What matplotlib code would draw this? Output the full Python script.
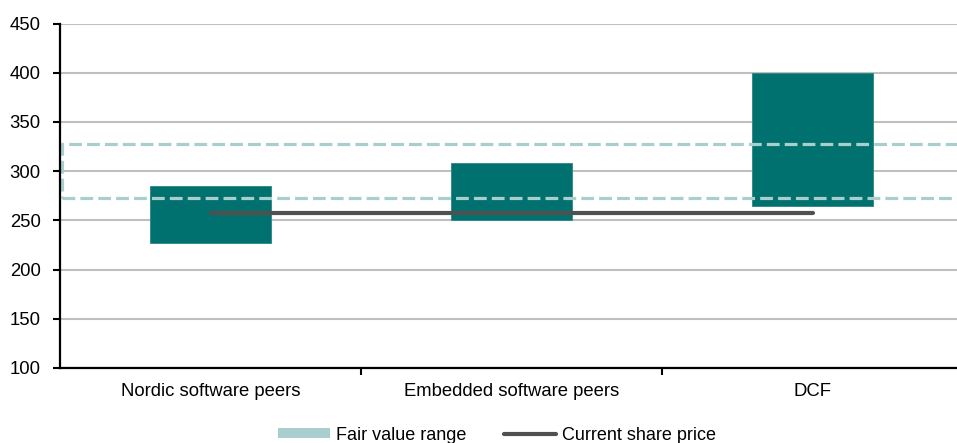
import numpy as np
import matplotlib.pyplot as plt
from matplotlib.patches import Patch, Rectangle
from matplotlib.lines import Line2D

plt.rcParams['font.family'] = ['Liberation Sans', 'DejaVu Sans']

# valuation ranges per method (low, high)
methods = ["Nordic software peers", "Embedded software peers", "DCF"]
range_low = [227, 250, 265]
range_high = [285, 308, 400]
share_price = 257
fair_low = 273
fair_high = 328
y_ticks = [100, 150, 200, 250, 300, 350, 400, 450]

bar_col = "#00716E"
fair_col = "#A8CFCD"
price_col = "#505050"

fig = plt.figure(figsize=(9.57, 4.43), dpi=100)
# axes runs a bit past the right edge of the picture, like the original
ax = fig.add_axes([60/957, 75/443, 903/957, 344.5/443])

x = np.arange(len(methods))
heights = [h - l for l, h in zip(range_low, range_high)]
ax.bar(x, heights, bottom=range_low, width=0.4, color=bar_col,
       edgecolor="#2B8783", linewidth=0.6, zorder=3)

# current share price line from first to last category
ax.plot([x[0], x[-1]], [share_price, share_price], color=price_col,
        lw=3.0, solid_capstyle='round', zorder=5)

# fair value range as dashed box
rect = Rectangle((-0.495, fair_low), 3.6, fair_high - fair_low, fill=False,
                 edgecolor=fair_col, lw=2.3, ls=(0, (4, 1.6)), zorder=4,
                 clip_on=False)
ax.add_patch(rect)

ax.set_xlim(-0.5, 2.5)
ax.set_ylim(100, 450)
ax.set_yticks(y_ticks)
ax.set_xticks(x)
ax.set_xticklabels(methods)
ax.set_xticks([0.5, 1.5], minor=True)
ax.tick_params(axis='x', which='major', length=0, pad=11, labelsize=13.3)
ax.tick_params(axis='x', which='minor', length=5, width=1.5, direction='out')
ax.tick_params(axis='y', length=5, width=1.5, pad=9, labelsize=13.3)

ax.grid(axis='y', color="#BFBFBF", lw=1.5, zorder=0)
ax.set_axisbelow(True)
for s in ['top', 'right']:
    ax.spines[s].set_visible(False)
for s in ['left', 'bottom']:
    ax.spines[s].set_linewidth(1.6)
    ax.spines[s].set_zorder(6)

handles = [Patch(facecolor=fair_col, edgecolor='none'),
           Line2D([0], [0], color=price_col, lw=3.0, solid_capstyle='round')]
fig.legend(handles, ["Fair value range", "Current share price"],
           loc='center', bbox_to_anchor=(0.519, 0.018), ncol=2,
           frameon=False, fontsize=13, handlelength=2.9, handleheight=0.5,
           handletextpad=0.3, columnspacing=2.1)

fig.savefig("out.png", dpi=100)
